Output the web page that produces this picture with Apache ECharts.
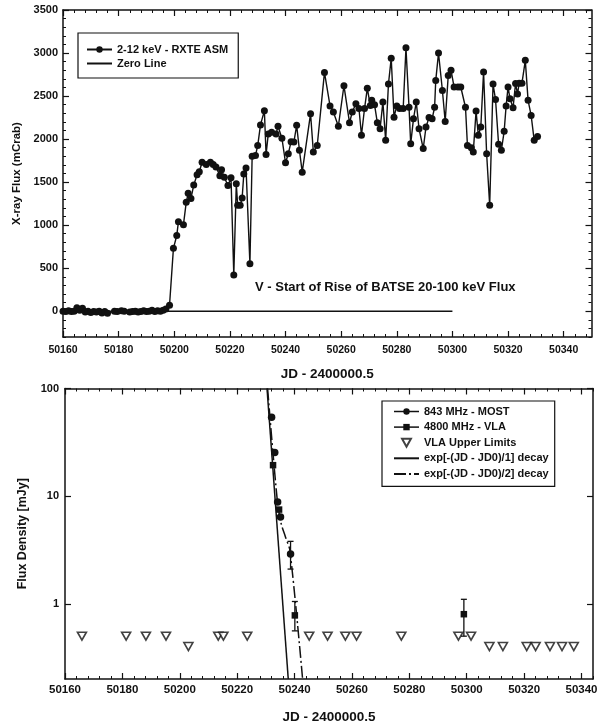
<!DOCTYPE html>
<html>
<head>
<meta charset="utf-8">
<script src="https://cdn.jsdelivr.net/npm/echarts@6/dist/echarts.min.js"></script>
<style>
html,body{margin:0;padding:0;background:#fff;}
#chart{width:606px;height:725px;}
</style>
</head>
<body>
<div id="chart"></div>
<script>
// ---------- DATA ----------
const asmDays = [
  50160,50161,50162,50163,50164,50165,50166,50167,50168,50169,50170,50171,50172,50173,50174,50175,50176,
  50178.5,50179.5,50181,50182,
  50184,50185,50186,50187,50188,50189,50190,50191,50192,50193,50194,50195,50196,50197,50198.3,
  50199.7,50200.9,50201.5,50203.3,50204.3,50205.0,50206.0,50207.0,50208.2,50209.0,50210.0,50211.5,50213.0,
  50214.0,50215.0,50216.4,50217.0,50218.0,50219.3,50220.4,50221.4,50222.3,50222.8,50223.7,50224.4,50225.0,
  50225.8,50227.2,50228.0,50229.2,50230.0,50231.0,50232.4,50233.0,50233.8,50235.0,50236.6,50237.3,50238.7,
  50240.0,50241.0,50242.0,50243.0,50244.0,50245.0,50246.0,50249.0,50250.0,50251.4,50254.0,50256.0,50257.2,
  50259.0,50261.0,50263.0,50264.0,50265.3,50266.4,50267.3,50268.4,50269.4,50270.5,50271.0,50272.0,50273.0,
  50274.0,50275.0,50276.0,50277.0,50278.0,50279.0,50280.0,50281.0,50282.3,50283.3,50284.4,50285.0,50286.0,
  50287.0,50288.0,50289.5,50290.5,50291.6,50292.7,50293.6,50294.0,50295.0,50296.4,50297.4,50298.5,50299.5,
  50300.6,50302.0,50303.0,50304.7,50305.4,50306.8,50307.5,50308.5,50309.3,50310.2,50311.2,50312.3,50313.4,
  50314.6,50315.5,50316.6,50317.6,50318.6,50319.3,50320.0,50320.7,50321.8,50322.7,50323.4,50324.0,50325.0,
  50326.2,50327.2,50328.3,50329.4,50330.6
];
const asmFlux = [
  0,-5,5,-5,0,40,10,35,-10,0,-15,-5,-10,0,-20,-5,-25,
  0,-5,5,0,
  -10,-5,0,-10,-5,5,-5,0,10,-5,5,0,10,25,70,
  730,880,1040,1005,1265,1370,1310,1465,1585,1620,1730,1705,1730,
  1705,1675,1575,1645,1555,1460,1550,420,1480,1230,1230,1315,1595,
  1665,550,1800,1810,1925,2165,2330,1820,2060,2080,2060,2150,2010,
  1725,1830,1970,1965,2160,1870,1615,2295,1850,1925,2775,2385,2315,
  2150,2620,2190,2315,2410,2355,2045,2355,2590,2390,2450,2400,2190,
  2120,2430,1985,2640,2940,2255,2385,2355,2355,3060,2370,1945,2235,
  2430,2120,1890,2140,2250,2235,2370,2680,3000,2565,2205,2740,2800,
  2605,2605,2605,2370,1925,1900,1850,2325,2045,2140,2780,1830,1230,
  2640,2460,1940,1870,2090,2385,2605,2470,2365,2645,2525,2650,2650,
  2915,2450,2275,1985,2030
];
const zeroLineDays = [50160, 50300];
const zeroLineFlux = [0, 0];

const mostDays = [50232.0, 50233.1, 50234.1, 50235.1, 50238.6];
const mostFlux = [54, 25.5, 8.8, 6.4, 2.9];
const vlaDays = [50232.5, 50234.6, 50240.1, 50299.0];
const vlaFlux = [19.4, 7.5, 0.78, 0.8];
const errDays = [50238.6, 50240.1, 50299.0];
const errLow  = [2.1, 0.56, 0.5];
const errHigh = [3.8, 1.05, 1.1];
const limitDays = [50165.9,50181.3,50188.2,50195.2,50203.0,50213.4,50215.2,50223.5,50245.1,50251.5,50257.7,
  50261.6,50277.2,50297.1,50301.5,50307.9,50312.6,50320.9,50324.0,50329.0,50333.2,50337.3];
const limitFlux = [0.5,0.5,0.5,0.5,0.4,0.5,0.5,0.5,0.5,0.5,0.5,
  0.5,0.5,0.5,0.5,0.4,0.4,0.4,0.4,0.4,0.4,0.4];
const decay1Days = [50230.4, 50237.8];
const decay1Flux = [100, 0.2];
const decay2Days = [50230.6, 50234.0, 50235.3, 50236.8, 50238.4, 50242.8];
const decay2Flux = [100, 9, 5.6, 4.2, 3.1, 0.2];

const xTickLabels = [50160,50180,50200,50220,50240,50260,50280,50300,50320,50340];
const topYTickLabels = [0,500,1000,1500,2000,2500,3000,3500];
const bottomYTickLabels = [1,10,100];

const topAnnotation = 'V - Start of Rise of BATSE 20-100 keV Flux';
const xTitle = 'JD - 2400000.5';

// ---------- helpers ----------
const FONT = '"Liberation Sans", Arial, Helvetica, sans-serif';
const INK = '#111';
const zip = (a, b) => a.map((v, i) => [v, b[i]]);

function range(a, b, step) { const r = []; for (let v = a; v <= b + 1e-9; v += step) r.push(+v.toFixed(6)); return r; }
const xMinor = range(50160, 50348, 4);
const topYMinor = range(-300, 3500, 100);

const topGrid = {left: 63, right: 14.5, top: 10, height: 327};
const botGrid = {left: 65, right: 13, top: 388.5, height: 290.5};

function axisBase(extra) {
  return Object.assign({
    axisLine: {show: false, onZero: false},
    splitLine: {show: false},
    axisLabel: {show: false},
    axisTick: {show: false},
    axisPointer: {show: false}
  }, extra);
}
function majorAxis(kind, o) {
  const a = axisBase(o.base);
  a.axisLine = {show: true, onZero: false, lineStyle: {color: INK, width: 1.5}};
  a.axisTick = {show: true, inside: true, length: 6, customValues: o.ticks, lineStyle: {color: INK, width: 1.2}};
  if (o.labels) {
    a.axisLabel = {show: true, customValues: o.labels, color: INK, fontFamily: FONT, fontWeight: 'bold',
      fontSize: o.fontSize, margin: o.margin, formatter: function (v) { return String(v); }};
  }
  return a;
}
function minorAxis(o) {
  const a = axisBase(o.base);
  a.axisTick = {show: true, inside: true, length: 3, customValues: o.ticks, lineStyle: {color: INK, width: 1}};
  return a;
}

const xAxes = [
  majorAxis('x', {base: {type: 'value', gridIndex: 0, position: 'bottom', min: 50160, max: 50350,
      name: xTitle, nameLocation: 'middle', nameGap: 30,
      nameTextStyle: {color: INK, fontFamily: FONT, fontWeight: 'bold', fontSize: 13.5}},
    ticks: xTickLabels, labels: xTickLabels, fontSize: 10.5, margin: 8}),
  majorAxis('x', {base: {type: 'value', gridIndex: 1, position: 'bottom', min: 50160, max: 50344,
      name: xTitle, nameLocation: 'middle', nameGap: 31,
      nameTextStyle: {color: INK, fontFamily: FONT, fontWeight: 'bold', fontSize: 13.5}},
    ticks: xTickLabels, labels: xTickLabels, fontSize: 11.5, margin: 5}),
  minorAxis({base: {type: 'value', gridIndex: 0, position: 'bottom', min: 50160, max: 50350}, ticks: xMinor}),
  minorAxis({base: {type: 'value', gridIndex: 1, position: 'bottom', min: 50160, max: 50344}, ticks: xMinor}),
  majorAxis('x', {base: {type: 'value', gridIndex: 0, position: 'top', min: 50160, max: 50350}, ticks: xTickLabels}),
  majorAxis('x', {base: {type: 'value', gridIndex: 1, position: 'top', min: 50160, max: 50344}, ticks: xTickLabels}),
  minorAxis({base: {type: 'value', gridIndex: 0, position: 'top', min: 50160, max: 50350}, ticks: xMinor}),
  minorAxis({base: {type: 'value', gridIndex: 1, position: 'top', min: 50160, max: 50344}, ticks: xMinor})
];

const yAxes = [
  majorAxis('y', {base: {type: 'value', gridIndex: 0, position: 'left', min: -300, max: 3500,
      name: 'X-ray Flux (mCrab)', nameLocation: 'middle', nameGap: 34,
      nameTextStyle: {color: INK, fontFamily: FONT, fontWeight: 'bold', fontSize: 11.5}},
    ticks: topYTickLabels, labels: topYTickLabels, fontSize: 11, margin: 5}),
  majorAxis('y', {base: {type: 'log', logBase: 10, gridIndex: 1, position: 'left', min: 0.2, max: 100,
      name: 'Flux Density [mJy]', nameLocation: 'middle', nameGap: 36,
      nameTextStyle: {color: INK, fontFamily: FONT, fontWeight: 'bold', fontSize: 12.5}},
    ticks: bottomYTickLabels, labels: bottomYTickLabels, fontSize: 11, margin: 6}),
  minorAxis({base: {type: 'value', gridIndex: 0, position: 'left', min: -300, max: 3500}, ticks: topYMinor}),
  majorAxis('y', {base: {type: 'value', gridIndex: 0, position: 'right', min: -300, max: 3500}, ticks: topYTickLabels}),
  minorAxis({base: {type: 'value', gridIndex: 0, position: 'right', min: -300, max: 3500}, ticks: topYMinor}),
  majorAxis('y', {base: {type: 'log', logBase: 10, gridIndex: 1, position: 'right', min: 0.2, max: 100}, ticks: bottomYTickLabels})
];

const downTri = 'path://M0,0 L10,0 L5,9 Z';
const noSymbol = {color: 'transparent', borderWidth: 0, opacity: 0};

const option = {
  animation: false,
  backgroundColor: '#fff',
  textStyle: {fontFamily: FONT},
  grid: [topGrid, botGrid],
  xAxis: xAxes,
  yAxis: yAxes,
  legend: [
    {
      orient: 'vertical', left: 78, top: 33,
      padding: [10, 10, 8, 8], itemGap: 1, itemWidth: 25, itemHeight: 8,
      borderColor: INK, borderWidth: 1.2, backgroundColor: '#fff',
      textStyle: {color: INK, fontFamily: FONT, fontWeight: 'bold', fontSize: 11, lineHeight: 13},
      selectedMode: false,
      data: [
        '2-12 keV - RXTE ASM',
        {name: 'Zero Line', itemStyle: noSymbol}
      ]
    },
    {
      orient: 'vertical', left: 382, top: 401,
      padding: [4, 6, 6, 11], itemGap: 2.6, itemWidth: 25, itemHeight: 8,
      borderColor: INK, borderWidth: 1.2, backgroundColor: '#fff',
      textStyle: {color: INK, fontFamily: FONT, fontWeight: 'bold', fontSize: 11, lineHeight: 13},
      selectedMode: false,
      data: [
        {name: '843 MHz - MOST', lineStyle: {opacity: 1, width: 1.5, color: INK}},
        {name: '4800 MHz - VLA', lineStyle: {opacity: 1, width: 1.5, color: INK}},
        'VLA Upper Limits',
        {name: 'exp[-(JD - JD0)/1] decay', itemStyle: noSymbol},
        {name: 'exp[-(JD - JD0)/2] decay', itemStyle: noSymbol}
      ]
    }
  ],
  graphic: [
    {type: 'text', left: 255, top: 281,
     style: {text: topAnnotation, fill: INK, font: 'bold 13px ' + FONT}}
  ],
  series: [
    {
      name: '2-12 keV - RXTE ASM', type: 'line', xAxisIndex: 0, yAxisIndex: 0,
      data: zip(asmDays, asmFlux), symbol: 'circle', symbolSize: 7, showSymbol: true,
      itemStyle: {color: INK}, lineStyle: {color: INK, width: 1.4}, z: 3
    },
    {
      name: 'Zero Line', type: 'line', xAxisIndex: 0, yAxisIndex: 0,
      data: zip(zeroLineDays, zeroLineFlux), symbol: 'none', showSymbol: false,
      itemStyle: {color: INK}, lineStyle: {color: INK, width: 1.5}, z: 2
    },
    {
      name: 'exp[-(JD - JD0)/1] decay', type: 'line', xAxisIndex: 1, yAxisIndex: 1,
      data: zip(decay1Days, decay1Flux), symbol: 'none', showSymbol: false,
      itemStyle: {color: INK}, lineStyle: {color: INK, width: 1.5}, z: 2
    },
    {
      name: 'exp[-(JD - JD0)/2] decay', type: 'line', xAxisIndex: 1, yAxisIndex: 1,
      data: zip(decay2Days, decay2Flux), symbol: 'none', showSymbol: false, smooth: 0.3,
      itemStyle: {color: INK}, lineStyle: {color: INK, width: 1.5, type: [12, 3, 2, 3]}, z: 2
    },
    {
      name: '843 MHz - MOST', type: 'line', xAxisIndex: 1, yAxisIndex: 1,
      data: zip(mostDays, mostFlux), symbol: 'circle', symbolSize: 7.5,
      itemStyle: {color: INK}, lineStyle: {color: INK, width: 1.5, opacity: 0}, z: 4
    },
    {
      name: '4800 MHz - VLA', type: 'line', xAxisIndex: 1, yAxisIndex: 1,
      data: zip(vlaDays, vlaFlux), symbol: 'rect', symbolSize: 6.5,
      itemStyle: {color: INK}, lineStyle: {color: INK, width: 1.5, opacity: 0}, z: 4
    },
    {
      name: 'VLA Upper Limits', type: 'scatter', xAxisIndex: 1, yAxisIndex: 1,
      data: zip(limitDays, limitFlux), symbol: downTri, symbolSize: [9, 8],
      itemStyle: {color: '#fff', borderColor: INK, borderWidth: 1.6}, z: 4
    },
    {
      name: 'errorbars', type: 'custom', xAxisIndex: 1, yAxisIndex: 1,
      data: errDays.map((d, i) => [d, errLow[i], errHigh[i]]),
      encode: {x: 0, y: [1, 2]},
      renderItem: function (params, api) {
        const x = api.value(0);
        const p1 = api.coord([x, api.value(1)]);
        const p2 = api.coord([x, api.value(2)]);
        const w = 3;
        const st = {stroke: INK, lineWidth: 1.3};
        return {type: 'group', children: [
          {type: 'line', shape: {x1: p1[0], y1: p1[1], x2: p2[0], y2: p2[1]}, style: st},
          {type: 'line', shape: {x1: p1[0] - w, y1: p1[1], x2: p1[0] + w, y2: p1[1]}, style: st},
          {type: 'line', shape: {x1: p2[0] - w, y1: p2[1], x2: p2[0] + w, y2: p2[1]}, style: st}
        ]};
      },
      z: 3
    }
  ]
};

const chart = echarts.init(document.getElementById('chart'), null, {renderer: 'canvas'});
chart.setOption(option);
</script>
</body>
</html>
